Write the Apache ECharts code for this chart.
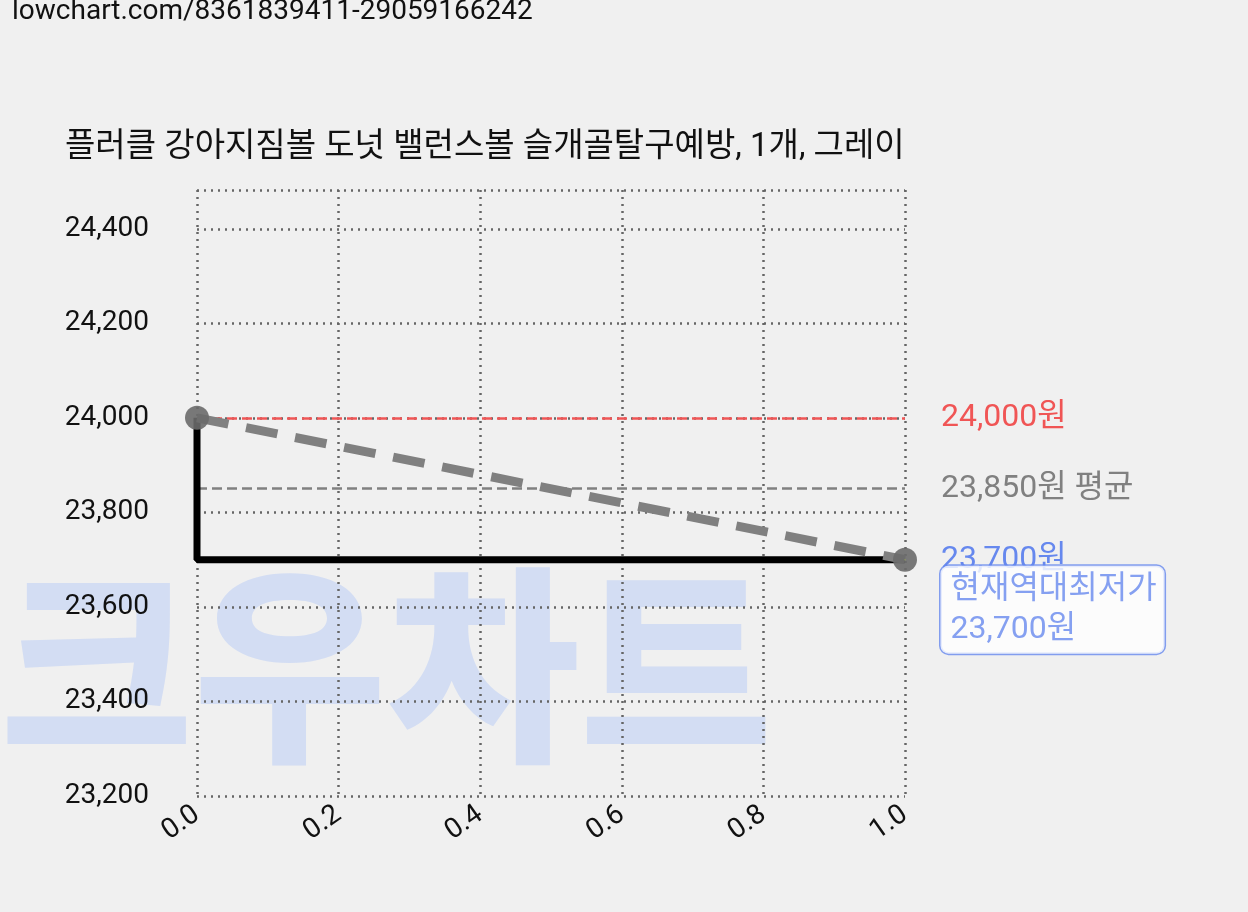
<!DOCTYPE html>
<html><head><meta charset="utf-8">
<script src="https://cdn.jsdelivr.net/npm/echarts@6/dist/echarts.min.js"></script>
<style>html,body{margin:0;background:#f0f0f0}#c{width:1248px;height:912px}</style>
</head><body><div id="c"></div>
<script>
const xs = [0, 1];
const prices = [24000, 23700];
const maxPrice = 24000, avgPrice = 23850, minPrice = 23700;
const title = '플러클 강아지짐볼 도넛 밸런스볼 슬개골탈구예방, 1개, 그레이';
const url = 'lowchart.com/8361839411-29059166242';
const F = 'Roboto, "Noto Sans CJK KR", sans-serif';
const fmt = v => v.toLocaleString('en-US');
const chart = echarts.init(document.getElementById('c'));
chart.setOption({
  backgroundColor: '#f0f0f0',
  textStyle: {fontFamily: F},
  graphic: [
    {type:'text', left: 12, top: -2, z: 0, style:{text:url, font:'28px '+F, fill:'#111'}},
    {type:'text', left: 0, top: 560, z: -1, style:{text:'크우차트', font:'900 210px "Noto Sans CJK KR"', fill:'#d3ddf3'}}
  ],
  title: {text: title, left: 60, top: 126, textStyle:{fontSize:33, fontWeight:'normal', color:'#111', fontFamily:F}},
  grid: {left: 197, right: 343, top: 190, bottom: 116},
  xAxis: {type:'value', min:0, max:1, interval:0.2,
    axisLine:{show:false}, axisTick:{show:false},
    axisLabel:{rotate:35, fontSize:28, color:'#111', margin:16, formatter:v=>v.toFixed(1)},
    splitLine:{lineStyle:{type:[2,5], color:'#666', width:2.5}}},
  yAxis: {type:'value', min:23200, max:24482, interval:200,
    axisLine:{show:false}, axisTick:{show:false},
    axisLabel:{fontSize:28, color:'#111', margin:48, formatter:v=>fmt(v), showMaxLabel:false},
    splitLine:{lineStyle:{type:[2,5], color:'#666', width:2.5}}},
  series: [
    {type:'line', data:[[xs[0],prices[0]],[xs[0],prices[1]],[xs[1],prices[1]]], symbol:'none',
     lineStyle:{color:'#000', width:7}, z:3,
     markLine:{silent:true, symbol:'none', z:2,
       label:{position:'end', fontSize:32, fontFamily:F, distance:36},
       data:[
         {yAxis:maxPrice, lineStyle:{color:'#f05555', type:'dashed', width:2.5}, label:{color:'#f05555', formatter:fmt(maxPrice)+'원'}},
         {yAxis:avgPrice, lineStyle:{color:'#808080', type:'dashed', width:2.5}, label:{color:'#808080', formatter:fmt(avgPrice)+'원 평균'}},
         {yAxis:minPrice, lineStyle:{color:'#6688ee', type:'dashed', width:2.5}, label:{color:'#6688ee', formatter:fmt(minPrice)+'원'}}
       ]}},
    {type:'line', data:xs.map((x,i)=>[x,prices[i]]), symbol:'circle', symbolSize:24,
     itemStyle:{color:'#6a6a6a', opacity:0.9},
     lineStyle:{color:'#808080', width:9, type:[32,18]}, z:4},
    {type:'scatter', data:[[xs[1],minPrice]], symbolSize:1, z:6,
     label:{show:true, position:'right', offset:[30,50], align:'left',
       formatter:'현재역대최저가\n'+fmt(minPrice)+'원', color:'#6688ee', fontSize:32, lineHeight:40,
       backgroundColor:'#fff', borderColor:'#6688ee', borderWidth:1.5, borderRadius:8, padding:[4,8,4,10], fontFamily:F}}
  ]
});
</script></body></html>
